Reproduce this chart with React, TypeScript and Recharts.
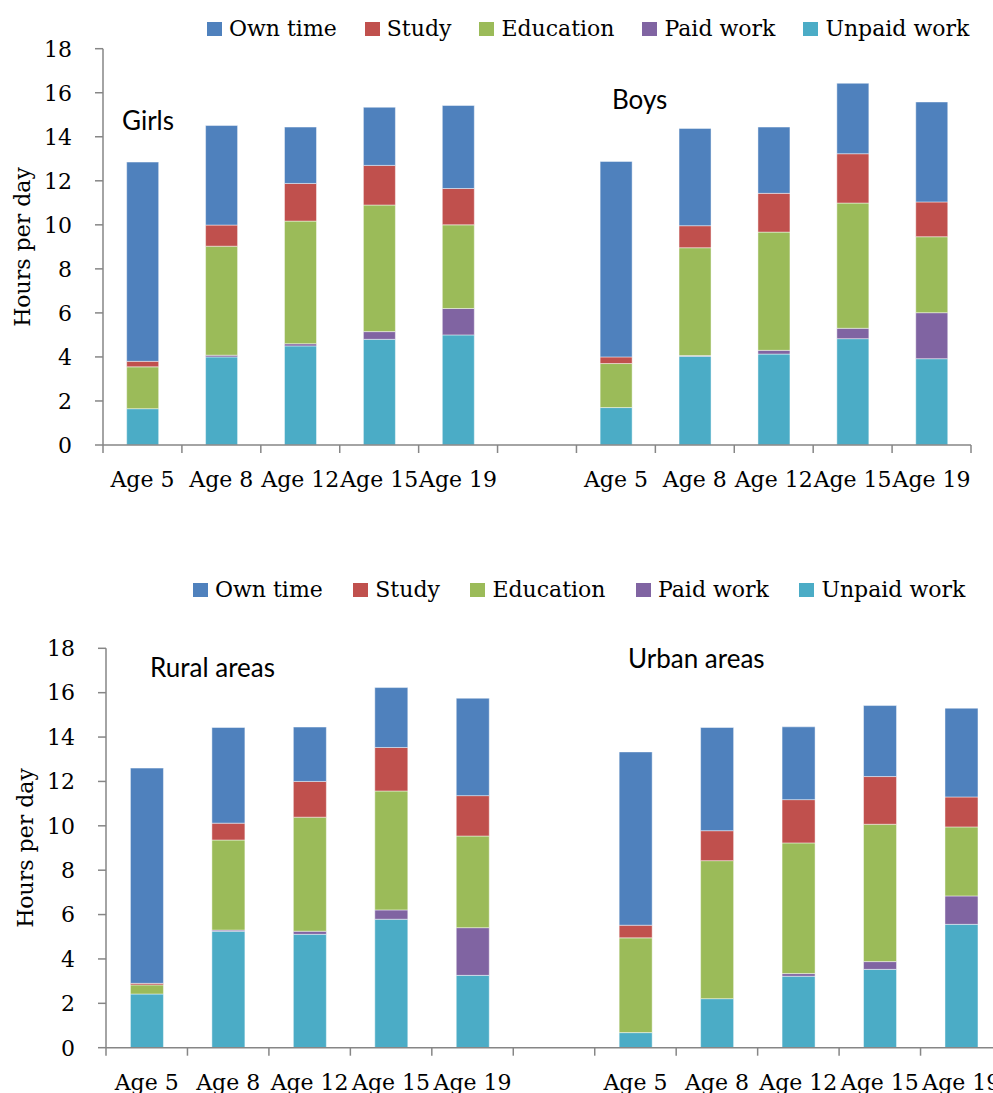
import React from 'react';
import { BarChart, Bar, XAxis, YAxis } from 'recharts';

// ---------- data ----------
const ageLabels = ['Age 5', 'Age 8', 'Age 12', 'Age 15', 'Age 19'];
const yTicks = [0, 2, 4, 6, 8, 10, 12, 14, 16, 18];

const girlsUnpaid = [1.65, 4.0, 4.5, 4.8, 5.0];
const girlsPaid = [0, 0.08, 0.1, 0.35, 1.2];
const girlsEducation = [1.9, 4.95, 5.57, 5.75, 3.8];
const girlsStudy = [0.25, 0.96, 1.71, 1.8, 1.65];
const girlsOwn = [9.05, 4.52, 2.56, 2.64, 3.77];

const boysUnpaid = [1.7, 4.03, 4.13, 4.83, 3.92];
const boysPaid = [0, 0.03, 0.17, 0.47, 2.09];
const boysEducation = [2.0, 4.9, 5.37, 5.69, 3.45];
const boysStudy = [0.3, 1.0, 1.76, 2.24, 1.58];
const boysOwn = [8.88, 4.42, 3.01, 3.2, 4.54];

const ruralUnpaid = [2.42, 5.25, 5.11, 5.79, 3.26];
const ruralPaid = [0, 0.05, 0.14, 0.42, 2.15];
const ruralEducation = [0.41, 4.06, 5.14, 5.36, 4.13];
const ruralStudy = [0.07, 0.76, 1.61, 1.96, 1.82];
const ruralOwn = [9.7, 4.31, 2.45, 2.7, 4.39];

const urbanUnpaid = [0.68, 2.21, 3.22, 3.53, 5.56];
const urbanPaid = [0, 0, 0.12, 0.35, 1.28];
const urbanEducation = [4.27, 6.22, 5.89, 6.19, 3.11];
const urbanStudy = [0.57, 1.35, 1.95, 2.15, 1.35];
const urbanOwn = [7.81, 4.65, 3.28, 3.2, 4.0];

// ---------- styles ----------
const SERIES = [
  { key: 'unpaid', name: 'Unpaid work', color: '#4BACC6' },
  { key: 'paid', name: 'Paid work', color: '#8064A2' },
  { key: 'education', name: 'Education', color: '#9BBB59' },
  { key: 'study', name: 'Study', color: '#C0504D' },
  { key: 'own', name: 'Own time', color: '#4F81BD' },
];
const LEGEND_ORDER = ['own', 'study', 'education', 'paid', 'unpaid'];
const AXIS = '#868686';
const SERIF = '"DejaVu Serif", serif';
const SANS = 'Lato, "Liberation Sans", sans-serif';

type Group = { unpaid: number[]; paid: number[]; education: number[]; study: number[]; own: number[] };

function buildRows(prefix: string[], a: Group, b: Group) {
  const rows: any[] = [];
  const labels: Record<string, string> = {};
  const add = (p: string, g: Group) => {
    ageLabels.forEach((lab, i) => {
      const id = `${p}-${lab}`;
      labels[id] = lab;
      rows.push({ id, unpaid: g.unpaid[i], paid: g.paid[i], education: g.education[i], study: g.study[i], own: g.own[i] });
    });
  };
  add(prefix[0], a);
  rows.push({ id: 'gap' });
  labels['gap'] = '';
  add(prefix[1], b);
  return { rows, labels };
}

const top = buildRows(
  ['Girls', 'Boys'],
  { unpaid: girlsUnpaid, paid: girlsPaid, education: girlsEducation, study: girlsStudy, own: girlsOwn },
  { unpaid: boysUnpaid, paid: boysPaid, education: boysEducation, study: boysStudy, own: boysOwn }
);
const bottom = buildRows(
  ['Rural', 'Urban'],
  { unpaid: ruralUnpaid, paid: ruralPaid, education: ruralEducation, study: ruralStudy, own: ruralOwn },
  { unpaid: urbanUnpaid, paid: urbanPaid, education: urbanEducation, study: urbanStudy, own: urbanOwn }
);

function makeTick(labels: Record<string, string>, band: number, plotBottom: number, lastIndex: number) {
  return (props: any) => {
    const { x, payload, index } = props;
    const label = labels[payload.value] ?? '';
    return (
      <g>
        <line x1={x - band / 2} x2={x - band / 2} y1={plotBottom} y2={plotBottom + 8} stroke={AXIS} strokeWidth={1.5} />
        {index === lastIndex && (
          <line x1={x + band / 2} x2={x + band / 2} y1={plotBottom} y2={plotBottom + 8} stroke={AXIS} strokeWidth={1.5} />
        )}
        <text x={x} y={plotBottom + 42} textAnchor="middle" fontFamily={SERIF} fontSize={22} fill="#000">
          {label}
        </text>
      </g>
    );
  };
}

type ChartCfg = {
  rows: any[];
  labels: Record<string, string>;
  width: number;
  height: number;
  marginTop: number;
  marginRight: number;
  marginBottom: number;
  yWidth: number;
};

function StackChart({ cfg }: { cfg: ChartCfg }) {
  const xHeight = 60;
  const plotBottom = cfg.height - cfg.marginBottom - xHeight;
  const plotWidth = cfg.width - cfg.marginRight - cfg.yWidth;
  const band = plotWidth / cfg.rows.length;
  return (
    <BarChart
      width={cfg.width}
      height={cfg.height}
      data={cfg.rows}
      margin={{ top: cfg.marginTop, right: cfg.marginRight, bottom: cfg.marginBottom, left: 0 }}
      barCategoryGap="30%"
    >
      <XAxis
        dataKey="id"
        height={xHeight}
        interval={0}
        axisLine={{ stroke: AXIS, strokeWidth: 1.5 }}
        tickLine={false}
        tick={makeTick(cfg.labels, band, plotBottom, cfg.rows.length - 1)}
      />
      <YAxis
        width={cfg.yWidth}
        domain={[0, 18]}
        ticks={yTicks}
        interval={0}
        tickSize={8}
        tickMargin={23}
        axisLine={{ stroke: AXIS, strokeWidth: 1.5 }}
        tickLine={{ stroke: AXIS, strokeWidth: 1.5 }}
        tick={{ fontFamily: SERIF, fontSize: 22, fill: '#000' }}
      />
      {SERIES.map((s) => (
        <Bar
          key={s.key}
          dataKey={s.key}
          name={s.name}
          stackId="a"
          fill={s.color}
          stroke="#ffffff"
          strokeOpacity={0.45}
          strokeWidth={1}
          isAnimationActive={false}
        />
      ))}
    </BarChart>
  );
}

function Legend({ left, top, gap }: { left: number; top: number; gap: number }) {
  return (
    <div style={{ position: 'absolute', left, top, display: 'flex', alignItems: 'center', whiteSpace: 'nowrap' }}>
      {LEGEND_ORDER.map((k) => {
        const s = SERIES.find((x) => x.key === k)!;
        return (
          <div key={k} style={{ display: 'flex', alignItems: 'center', marginRight: gap }}>
            <div style={{ width: 15, height: 14, background: s.color, marginRight: 7 }} />
            <span style={{ fontFamily: SERIF, fontSize: 22, color: '#000', lineHeight: '26px' }}>{s.name}</span>
          </div>
        );
      })}
    </div>
  );
}

export default function App() {
  const topCfg: ChartCfg = {
    rows: top.rows,
    labels: top.labels,
    width: 993,
    height: 520,
    marginTop: 48.7,
    marginRight: 22,
    marginBottom: 15,
    yWidth: 103,
  };
  const botCfg: ChartCfg = {
    rows: bottom.rows,
    labels: bottom.labels,
    width: 1010,
    height: 560,
    marginTop: 88.3,
    marginRight: 8,
    marginBottom: 12.3,
    yWidth: 106,
  };
  return (
    <div style={{ position: 'absolute', left: 0, top: 0, width: 993, height: 1093, overflow: 'hidden', background: '#fff' }}>
      <div style={{ position: 'absolute', left: 0, top: 0 }}>
        <StackChart cfg={topCfg} />
      </div>
      <div style={{ position: 'absolute', left: 0, top: 560 }}>
        <StackChart cfg={botCfg} />
      </div>
      <Legend left={207} top={16} gap={28} />
      <Legend left={193} top={577} gap={30.5} />
      <svg width={993} height={1093} style={{ position: 'absolute', left: 0, top: 0, pointerEvents: 'none' }}>
        <text x={122} y={130} fontFamily={SANS} fontSize={26} fill="#000">Girls</text>
        <text x={612} y={109} fontFamily={SANS} fontSize={26} fill="#000">Boys</text>
        <text x={150} y={677} fontFamily={SANS} fontSize={26} fill="#000">Rural areas</text>
        <text x={628} y={668} fontFamily={SANS} fontSize={26} fill="#000">Urban areas</text>
        <text x={22} y={247} transform="rotate(-90 22 247)" textAnchor="middle" dominantBaseline="central" fontFamily={SERIF} fontSize={22} fill="#000">Hours per day</text>
        <text x={25} y={848} transform="rotate(-90 25 848)" textAnchor="middle" dominantBaseline="central" fontFamily={SERIF} fontSize={22} fill="#000">Hours per day</text>
      </svg>
    </div>
  );
}
